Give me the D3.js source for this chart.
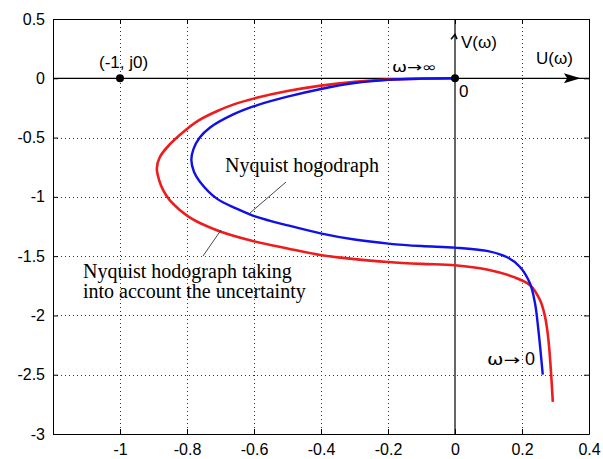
<!DOCTYPE html>
<html><head><meta charset="utf-8">
<script src="https://cdn.jsdelivr.net/npm/d3@7"></script>
<style>body{margin:0;background:#fff}svg{display:block}</style>
</head><body>
<svg id="c" width="603" height="459"></svg>
<script>
const xTicks = [-1, -0.8, -0.6, -0.4, -0.2, 0, 0.2, 0.4];
const yTicks = [0.5, 0, -0.5, -1, -1.5, -2, -2.5, -3];
const xTickLabels = ["-1", "-0.8", "-0.6", "-0.4", "-0.2", "0", "0.2", "0.4"];
const yTickLabels = ["0.5", "0", "-0.5", "-1", "-1.5", "-2", "-2.5", "-3"];

// Nyquist hodograph (blue)
const blueU = [0, -0.1, -0.2, -0.3, -0.4, -0.5, -0.592, -0.662, -0.731, -0.762, -0.781, -0.787, -0.779, -0.761, -0.711, -0.652, -0.592, -0.5, -0.398, -0.3, -0.199, -0.1, 0, 0.095, 0.154, 0.194, 0.224, 0.239, 0.249, 0.262];
const blueV = [0, -0.003, -0.013, -0.04, -0.09, -0.155, -0.228, -0.305, -0.415, -0.50, -0.60, -0.69, -0.79, -0.874, -1.015, -1.099, -1.169, -1.24, -1.31, -1.36, -1.394, -1.415, -1.428, -1.456, -1.507, -1.591, -1.731, -1.90, -2.125, -2.5];
// Nyquist hodograph taking into account the uncertainty (red)
const redU = [0, -0.1, -0.2, -0.3, -0.4, -0.5, -0.592, -0.66, -0.711, -0.765, -0.811, -0.851, -0.881, -0.89, -0.883, -0.87, -0.851, -0.791, -0.711, -0.612, -0.5, -0.398, -0.3, -0.199, -0.1, 0, 0.095, 0.174, 0.224, 0.254, 0.269, 0.279, 0.292];
const redV = [0, -0.003, -0.011, -0.03, -0.062, -0.108, -0.165, -0.22, -0.278, -0.355, -0.452, -0.556, -0.664, -0.761, -0.86, -0.95, -1.03, -1.175, -1.281, -1.366, -1.435, -1.492, -1.525, -1.549, -1.565, -1.577, -1.613, -1.675, -1.745, -1.872, -2.013, -2.209, -2.729];

const svg = d3.select("#c");
const x = d3.scaleLinear().domain([-1.2, 0.4]).range([53, 589]);
const y = d3.scaleLinear().domain([0.5, -3]).range([19, 434]);
const font = "Arial, 'Liberation Sans', sans-serif";
const px = v => Math.round(v) + 0.5;

// grid
const g = svg.append("g").attr("shape-rendering", "crispEdges");
g.selectAll(".gx").data(xTicks.filter(d => d !== 0 && d !== 0.4)).enter().append("line")
  .attr("x1", d => px(x(d))).attr("x2", d => px(x(d))).attr("y1", y(0.5)).attr("y2", y(-3))
  .attr("stroke", "#333").attr("stroke-width", 1).attr("stroke-dasharray", "1,3");
g.selectAll(".gy").data(yTicks.filter(d => d !== 0 && d !== 0.5 && d !== -3)).enter().append("line")
  .attr("x1", x(-1.2)).attr("x2", x(0.4)).attr("y1", d => px(y(d))).attr("y2", d => px(y(d)))
  .attr("stroke", "#333").attr("stroke-width", 1).attr("stroke-dasharray", "1,3");

// axes (MATLAB-like box, inward ticks)
const axB = d3.axisBottom(x).tickValues(xTicks).tickFormat((d, i) => xTickLabels[i]).tickSizeInner(-5).tickSizeOuter(0).tickPadding(10);
const axL = d3.axisLeft(y).tickValues(yTicks).tickFormat((d, i) => yTickLabels[i]).tickSizeInner(-5).tickSizeOuter(0).tickPadding(8);
const axT = d3.axisTop(x).tickValues(xTicks).tickFormat("").tickSizeInner(-5).tickSizeOuter(0);
const axR = d3.axisRight(y).tickValues(yTicks).tickFormat("").tickSizeInner(-5).tickSizeOuter(0);
function style(sel){ sel.selectAll("path").attr("stroke","#000"); sel.selectAll("line").attr("stroke","#000");
  sel.selectAll("text").attr("font-family", font).attr("font-size", 16).attr("fill","#000"); }
svg.append("g").attr("transform", `translate(0,${y(-3)})`).call(axB).call(style);
svg.append("g").attr("transform", `translate(${x(-1.2)},0)`).call(axL).call(style);
svg.append("g").attr("transform", `translate(0,${y(0.5)})`).call(axT).call(style);
svg.append("g").attr("transform", `translate(${x(0.4)},0)`).call(axR).call(style);

// coordinate axes
svg.append("line").attr("x1", x(-1.2)).attr("x2", x(0.4)).attr("y1", y(0)).attr("y2", y(0)).attr("stroke","#000").attr("stroke-width",1.2);
svg.append("line").attr("x1", x(0)).attr("x2", x(0)).attr("y1", y(0.5)).attr("y2", y(-3)).attr("stroke","#000").attr("stroke-width",1.2);
// arrowheads
svg.append("path").attr("d", `M${x(0.375)},${y(0)} L${x(0.325)},${y(0)-5} L${x(0.335)},${y(0)} L${x(0.325)},${y(0)+5} Z`).attr("fill","#000");
svg.append("path").attr("d", `M${x(0)-4},${y(0.33)} L${x(0)},${y(0.37)} L${x(0)+2},${y(0.33)}`).attr("fill","none").attr("stroke","#000").attr("stroke-width",1.5);

// curves
const line = d3.line().x(d => x(d[0])).y(d => y(d[1])).curve(d3.curveCatmullRom.alpha(0.5));
svg.append("path").datum(redU.map((u, i) => [u, redV[i]])).attr("d", line)
  .attr("fill","none").attr("stroke","#ee1c1c").attr("stroke-width",2.6);
svg.append("path").datum(blueU.map((u, i) => [u, blueV[i]])).attr("d", line)
  .attr("fill","none").attr("stroke","#1010e8").attr("stroke-width",2.4);

// points
svg.append("circle").attr("cx", x(-1)).attr("cy", y(0)).attr("r", 4).attr("fill","#000");
svg.append("circle").attr("cx", x(0)).attr("cy", y(0)).attr("r", 4).attr("fill","#000");

// annotations
function txt(t, tx, ty, size, fam, anchor){ return svg.append("text").attr("x", tx).attr("y", ty)
  .attr("font-family", fam || font).attr("font-size", size).attr("text-anchor", anchor || "start").attr("fill","#000").text(t); }
const dv = "'DejaVu Sans', sans-serif";
txt("(-1, j0)", 99, 68, 17);
txt("0", 459, 97, 17);
txt("V(ω)", 461, 48, 17);
txt("U(ω)", 536, 64, 17);
txt("ω→∞", 392, 72, 14, dv).attr("textLength", 45).attr("lengthAdjust", "spacingAndGlyphs");
txt("ω→", 487, 365, 15, dv).attr("textLength", 33).attr("lengthAdjust", "spacingAndGlyphs");
txt("0", 525, 365, 18);
const serif = "'Times New Roman', 'Liberation Serif', serif";
txt("Nyquist hogodraph", 225, 172, 20, serif);
txt("Nyquist hodograph taking", 83, 278, 20, serif);
txt("into account the uncertainty", 83, 298, 20, serif);
// leader lines
svg.append("line").attr("x1", 286).attr("y1", 182).attr("x2", 250).attr("y2", 213).attr("stroke","#333").attr("stroke-width",0.9);
svg.append("line").attr("x1", 221).attr("y1", 230).attr("x2", 203).attr("y2", 256).attr("stroke","#333").attr("stroke-width",0.9);
</script>
</body></html>
